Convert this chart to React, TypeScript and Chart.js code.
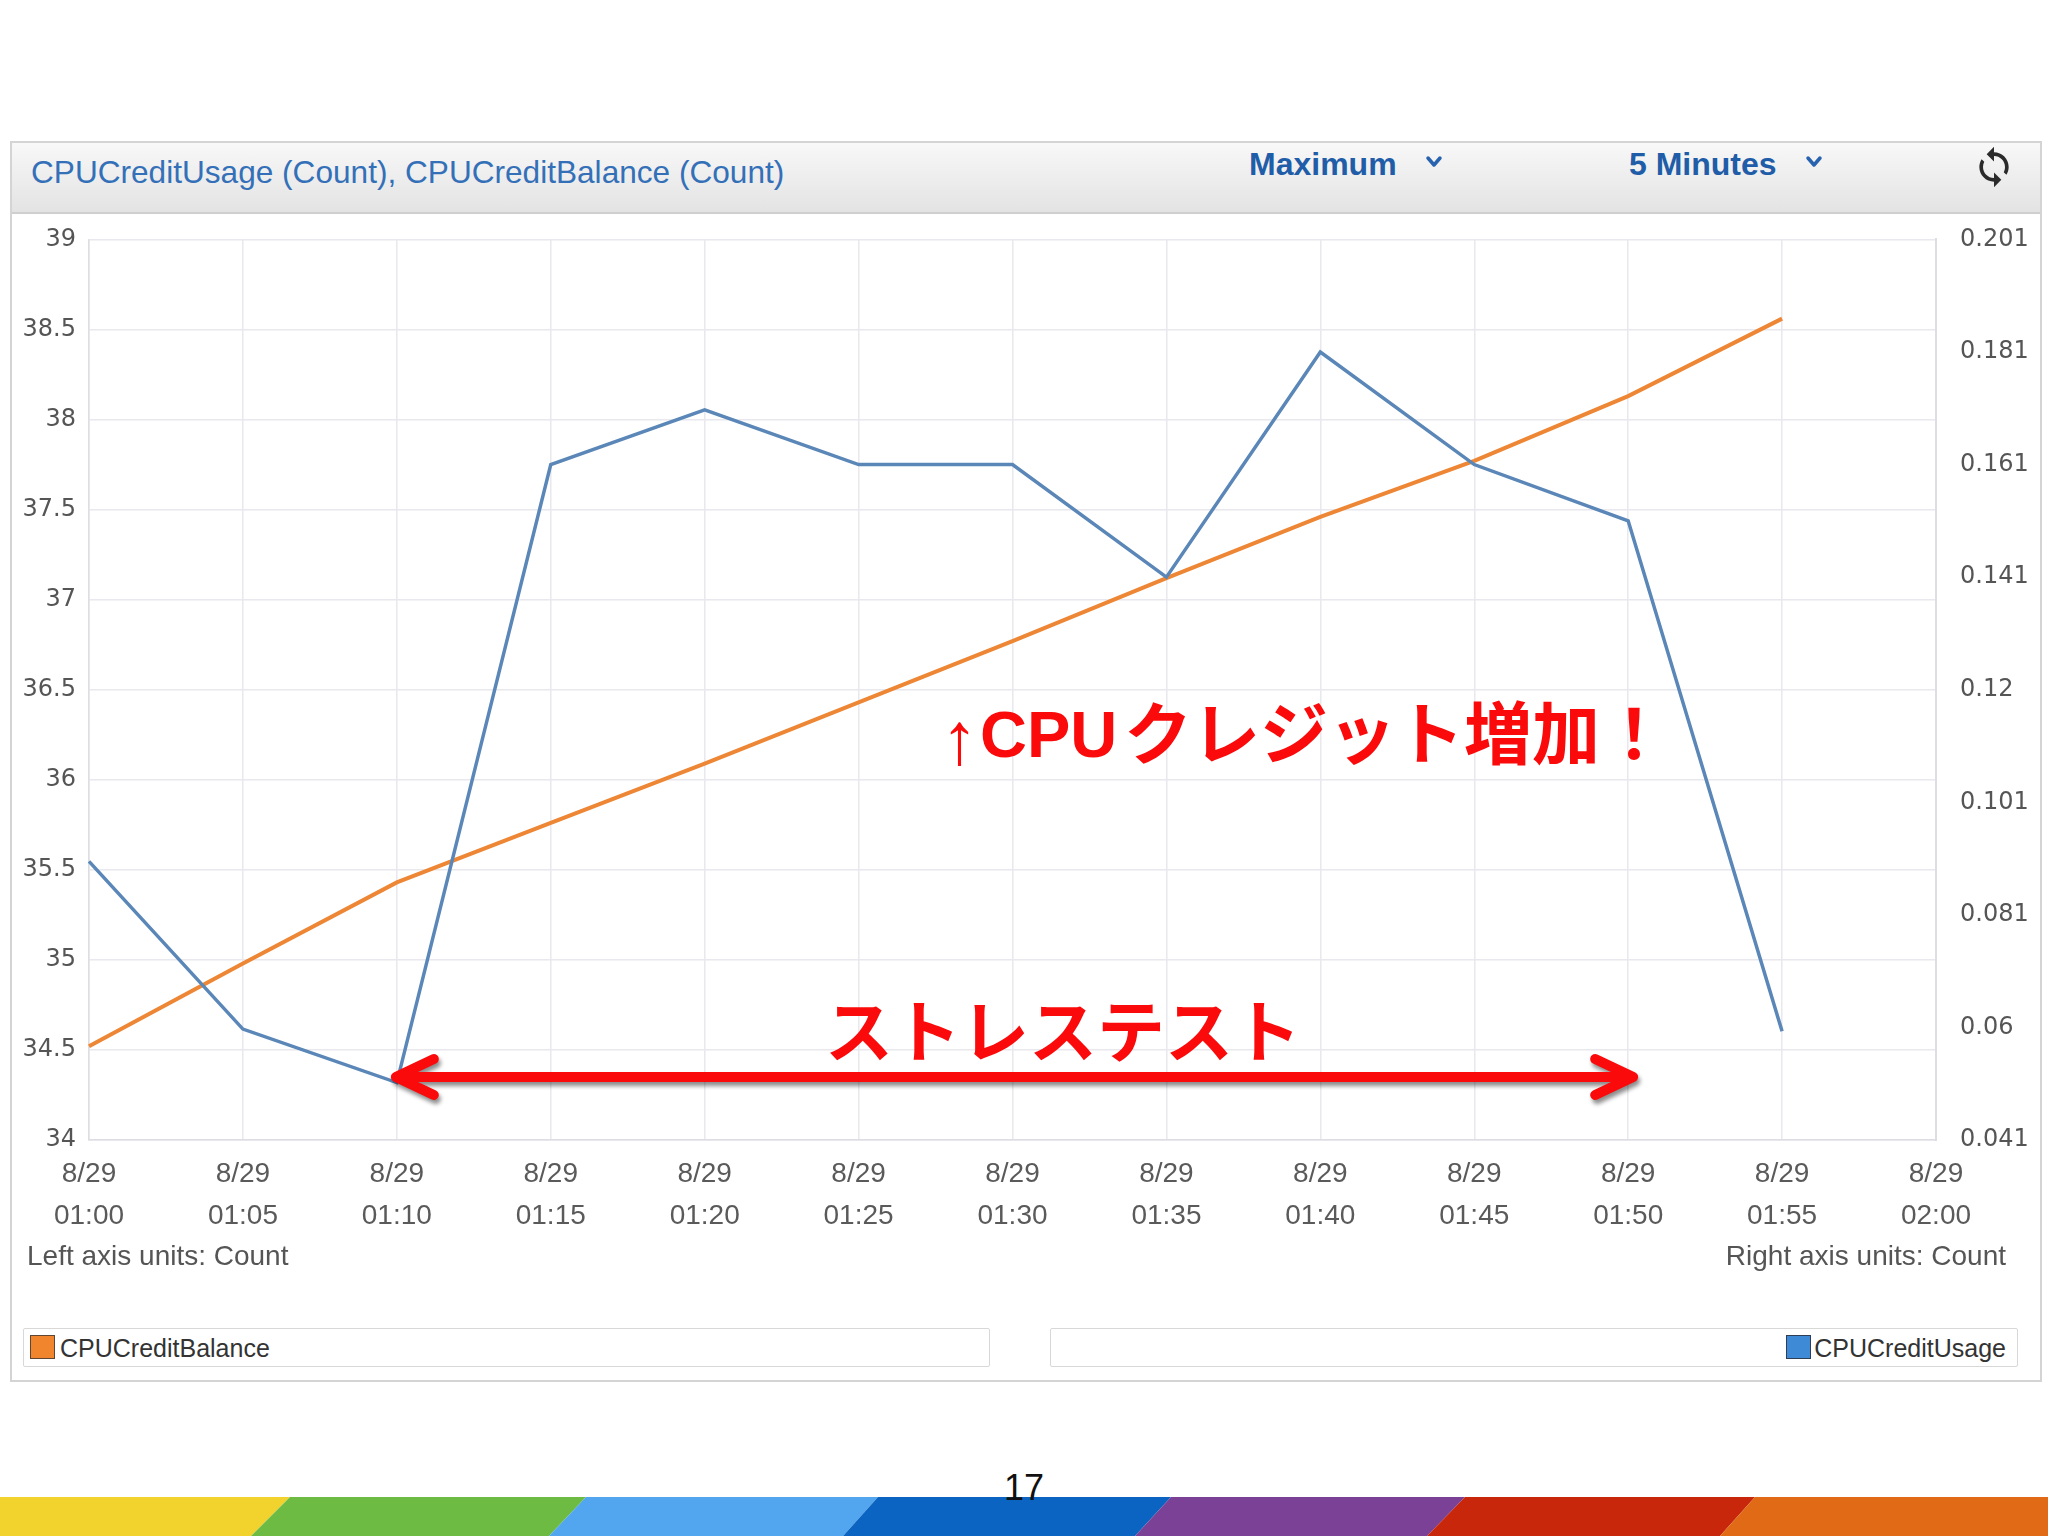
import React, { useEffect, useRef } from "react";
import { Chart, registerables } from "chart.js";

Chart.register(...registerables);

// ---------- data ----------
const dateLabel = "8/29";
const timeLabels = ["01:00", "01:05", "01:10", "01:15", "01:20", "01:25", "01:30", "01:35", "01:40", "01:45", "01:50", "01:55", "02:00"];
const creditBalance = [34.52, 34.98, 35.43, 35.76, 36.09, 36.43, 36.77, 37.12, 37.46, 37.77, 38.13, 38.56, null];
const creditUsage = [0.0905, 0.0607, 0.0512, 0.161, 0.1707, 0.161, 0.161, 0.141, 0.181, 0.161, 0.151, 0.0603, null];
const leftTicks = [34, 34.5, 35, 35.5, 36, 36.5, 37, 37.5, 38, 38.5, 39];
const leftTickLabels = ["34", "34.5", "35", "35.5", "36", "36.5", "37", "37.5", "38", "38.5", "39"];
const rightTicks = [0.041, 0.061, 0.081, 0.101, 0.121, 0.141, 0.161, 0.181, 0.201];
const rightTickLabels = ["0.041", "0.06", "0.081", "0.101", "0.12", "0.141", "0.161", "0.181", "0.201"];

const titleText = "CPUCreditUsage (Count), CPUCreditBalance (Count)";
const statText = "Maximum";
const periodText = "5 Minutes";
const annotUp = "↑";
const annotCPU = "CPU";
const annotJa = "クレジット増加！";
const annotStress = "ストレステスト";
const arrowFrom = 2;
const arrowTo = 10;
const arrowValue = 34.35;

const ORANGE = "#EE8735";
const BLUE = "#5A87B7";
const GRID = "#E8E8EE";
const RED = "#FA0A0A";

const CANVAS_TOP = 201;
const CANVAS_H = 1051;

const annotationPlugin = {
  id: "annotations",
  afterDatasetsDraw(chart: any) {
    const ctx = chart.ctx as CanvasRenderingContext2D;
    const xs = chart.scales.x;
    const yl = chart.scales.yLeft;
    const y = yl.getPixelForValue(arrowValue);
    const x1 = xs.getPixelForValue(arrowFrom) - 1;
    const x2 = xs.getPixelForValue(arrowTo) + 5;
    ctx.save();
    ctx.shadowColor = "rgba(0,0,0,0.45)";
    ctx.shadowBlur = 4;
    ctx.shadowOffsetX = 2;
    ctx.shadowOffsetY = 4;
    ctx.strokeStyle = RED;
    ctx.lineWidth = 10;
    ctx.lineCap = "round";
    ctx.lineJoin = "round";
    ctx.beginPath();
    ctx.moveTo(x1 + 4, y);
    ctx.lineTo(x2 - 4, y);
    ctx.moveTo(x1 + 38, y - 18);
    ctx.lineTo(x1, y);
    ctx.lineTo(x1 + 38, y + 18);
    ctx.moveTo(x2 - 38, y - 18);
    ctx.lineTo(x2, y);
    ctx.lineTo(x2 - 38, y + 18);
    ctx.stroke();
    ctx.restore();

    // text positions given in page coordinates, converted to canvas coordinates
    const py = (v: number) => v - CANVAS_TOP;
    ctx.save();
    ctx.fillStyle = RED;
    ctx.textBaseline = "alphabetic";
    ctx.textAlign = "left";
    ctx.font = "bold 68px 'Noto Sans CJK JP'";
    ctx.fillText(annotStress, 825, py(1057));
    ctx.font = "74px 'Liberation Sans'";
    ctx.fillText(annotUp, 941, py(764));
    ctx.font = "bold 65px 'Liberation Sans'";
    ctx.fillText(annotCPU, 980, py(757));
    ctx.font = "bold 68px 'Noto Sans CJK JP'";
    ctx.fillText(annotJa, 1124, py(759));
    ctx.restore();
  },
};

function ChartCanvas() {
  const ref = useRef<HTMLCanvasElement | null>(null);
  useEffect(() => {
    if (!ref.current) return;
    const chart = new Chart(ref.current, {
      type: "line",
      data: {
        labels: timeLabels.map((t) => [dateLabel, t]),
        datasets: [
          {
            label: "CPUCreditUsage",
            data: creditUsage,
            yAxisID: "yRight",
            borderColor: BLUE,
            borderWidth: 3.5,
            pointRadius: 0,
            tension: 0,
          },
          {
            label: "CPUCreditBalance",
            data: creditBalance,
            yAxisID: "yLeft",
            borderColor: ORANGE,
            borderWidth: 4,
            pointRadius: 0,
            tension: 0,
          },
        ],
      },
      options: {
        animation: false,
        responsive: false,
        devicePixelRatio: 1,
        layout: { padding: { top: 0, left: 0, right: 0, bottom: 0 } },
        plugins: { legend: { display: false }, tooltip: { enabled: false }, title: { display: false } },
        scales: {
          x: {
            type: "category",
            offset: false,
            grid: { color: GRID, lineWidth: 1.5, drawTicks: false },
            border: { display: true, color: "#DDDDE3", width: 1.5 },
            ticks: {
              autoSkip: false,
              maxRotation: 0,
              minRotation: 0,
              padding: 13,
              color: "#5A5A5A",
              font: { family: "'Liberation Sans', Arial, sans-serif", size: 28, lineHeight: "42px" },
            },
            afterFit(scale: any) {
              scale.height = 112;
            },
          },
          yLeft: {
            type: "linear",
            position: "left",
            min: 34,
            max: 39,
            grid: { color: GRID, lineWidth: 1.5, drawTicks: false },
            border: { display: true, color: "#DDDDE3", width: 1.5 },
            afterBuildTicks(scale: any) {
              scale.ticks = leftTicks.map((v) => ({ value: v }));
            },
            ticks: {
              padding: 13,
              color: "#555555",
              font: { family: "'DejaVu Sans', sans-serif", size: 24 },
              callback: (v: any) => {
                const i = leftTicks.findIndex((t) => Math.abs(t - v) < 1e-6);
                return i >= 0 ? leftTickLabels[i] : "";
              },
            },
            afterFit(scale: any) {
              scale.width = 89;
            },
          },
          yRight: {
            type: "linear",
            position: "right",
            min: 0.041,
            max: 0.201,
            grid: { display: false, drawTicks: false },
            border: { display: true, color: "#DDDDE3", width: 2 },
            afterBuildTicks(scale: any) {
              scale.ticks = rightTicks.map((v) => ({ value: v }));
            },
            ticks: {
              padding: 24,
              color: "#555555",
              font: { family: "'DejaVu Sans', sans-serif", size: 24 },
              callback: (v: any) => {
                const i = rightTicks.findIndex((t) => Math.abs(t - v) < 1e-7);
                return i >= 0 ? rightTickLabels[i] : "";
              },
            },
            afterFit(scale: any) {
              scale.width = 112;
            },
          },
        },
      } as any,
      plugins: [annotationPlugin],
    });
    return () => chart.destroy();
  }, []);
  return (
    <canvas
      ref={ref}
      width={2048}
      height={CANVAS_H}
      style={{ position: "absolute", left: 0, top: CANVAS_TOP, width: 2048, height: CANVAS_H }}
    />
  );
}

function Chevron({ x, y }: { x: number; y: number }) {
  return (
    <svg style={{ position: "absolute", left: x - 9, top: y - 7 }} width={18} height={14}>
      <polyline points="3,3 9,10 15,3" fill="none" stroke="#2763AE" strokeWidth={3.5} strokeLinecap="round" strokeLinejoin="round" />
    </svg>
  );
}

function RefreshIcon() {
  return (
    <svg style={{ position: "absolute", left: 1972, top: 145 }} width={44} height={44} viewBox="0 0 24 24">
      <path
        fill="#2b2b2b"
        d="M12 4V1L8 5l4 4V6c3.31 0 6 2.690 6 6 0 1.01-.25 1.97-.7 2.8l1.46 1.46C19.54 15.03 20 13.57 20 12c0-4.42-3.58-8-8-8zm0 14c-3.31 0-6-2.69-6-6 0-1.01.25-1.97.7-2.8L5.24 7.74C4.46 8.97 4 10.43 4 12c0 4.42 3.58 8 8 8v3l4-4-4-4v3z"
      />
    </svg>
  );
}

const stripe = [
  { c: "#F2D32E", p: "0,0 290,0 251,39 0,39" },
  { c: "#6DBB42", p: "290,0 586,0 549,39 251,39" },
  { c: "#51A6EF", p: "586,0 878,0 843,39 549,39" },
  { c: "#0B64C1", p: "878,0 1171,0 1135,39 843,39" },
  { c: "#7A4196", p: "1171,0 1465,0 1427,39 1135,39" },
  { c: "#C8270C", p: "1465,0 1755,0 1720,39 1427,39" },
  { c: "#E06A15", p: "1755,0 2048,0 2048,39 1720,39" },
];

export default function App() {
  const font = "'Liberation Sans', Arial, sans-serif";
  return (
    <div
      style={{
        position: "absolute",
        left: 0,
        top: 0,
        width: 2048,
        height: 1536,
        overflow: "hidden",
        background: "#ffffff",
        fontFamily: font,
      }}
    >
      {/* panel */}
      <div
        style={{
          position: "absolute",
          left: 10,
          top: 141,
          width: 2028,
          height: 1237,
          border: "2px solid #D4D4D4",
          background: "#ffffff",
        }}
      />
      {/* header bar */}
      <div
        style={{
          position: "absolute",
          left: 12,
          top: 143,
          width: 2028,
          height: 69,
          background: "linear-gradient(#F8F8F8, #E3E3E3)",
          borderBottom: "2px solid #CFCFCF",
        }}
      />
      <div style={{ position: "absolute", left: 31, top: 152, fontSize: 31.6, color: "#3470B8", lineHeight: "40px", whiteSpace: "nowrap" }}>
        {titleText}
      </div>
      <div style={{ position: "absolute", left: 1249, top: 144, fontSize: 32, fontWeight: "bold", color: "#1F5DA8", lineHeight: "40px", whiteSpace: "nowrap" }}>
        {statText}
      </div>
      <Chevron x={1434} y={162} />
      <div style={{ position: "absolute", left: 1629, top: 144, fontSize: 32, fontWeight: "bold", color: "#1F5DA8", lineHeight: "40px", whiteSpace: "nowrap" }}>
        {periodText}
      </div>
      <Chevron x={1814} y={162} />
      <RefreshIcon />

      <ChartCanvas />

      {/* axis units */}
      <div style={{ position: "absolute", left: 27, top: 1240, fontSize: 28, color: "#555", lineHeight: "32px", whiteSpace: "nowrap" }}>
        Left axis units: Count
      </div>
      <div style={{ position: "absolute", right: 2048 - 2006, top: 1240, fontSize: 28, color: "#555", lineHeight: "32px", whiteSpace: "nowrap" }}>
        Right axis units: Count
      </div>

      {/* legends */}
      <div style={{ position: "absolute", left: 23, top: 1328, width: 965, height: 37, border: "1.5px solid #D8D8D8", borderRadius: 2 }} />
      <div style={{ position: "absolute", left: 30, top: 1335, width: 23, height: 22, background: "#F0852D", border: "1.5px solid #5E4632" }} />
      <div style={{ position: "absolute", left: 60, top: 1332, fontSize: 25, color: "#333", lineHeight: "32px", whiteSpace: "nowrap" }}>
        CPUCreditBalance
      </div>
      <div style={{ position: "absolute", left: 1050, top: 1328, width: 966, height: 37, border: "1.5px solid #D8D8D8", borderRadius: 2 }} />
      <div style={{ position: "absolute", left: 1786, top: 1335, width: 23, height: 22, background: "#3F8AD6", border: "1.5px solid #2F3E55" }} />
      <div style={{ position: "absolute", right: 2048 - 2006, top: 1332, fontSize: 25, color: "#333", lineHeight: "32px", whiteSpace: "nowrap" }}>
        CPUCreditUsage
      </div>

      {/* bottom stripe */}
      <svg style={{ position: "absolute", left: 0, top: 1497 }} width={2048} height={39}>
        {stripe.map((s, i) => (
          <polygon key={i} points={s.p} fill={s.c} />
        ))}
      </svg>
      <div style={{ position: "absolute", left: 0, width: 2048, top: 1468, textAlign: "center", fontSize: 36, color: "#111", lineHeight: "40px" }}>
        17
      </div>
    </div>
  );
}
